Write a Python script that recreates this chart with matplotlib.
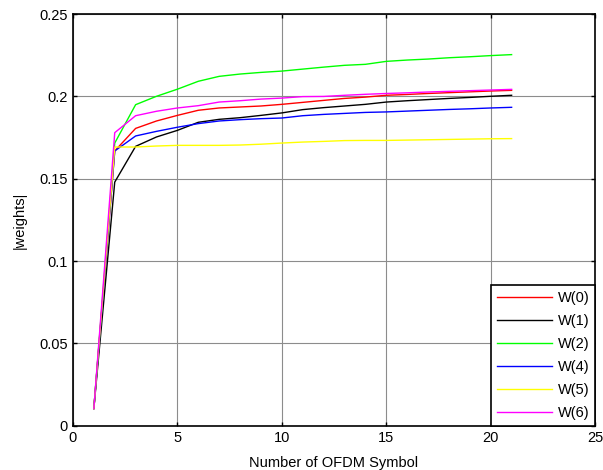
import matplotlib
matplotlib.use("Agg")
import matplotlib.pyplot as plt
from matplotlib.ticker import FuncFormatter

plt.rcParams.update({"font.family": ["Liberation Sans", "DejaVu Sans"], "font.size": 10.5})

symbols = list(range(1, 22))
w0 = [0.0105, 0.1669, 0.1806, 0.1851, 0.1885, 0.1916, 0.1930, 0.1936, 0.1942, 0.1952, 0.1964,
      0.1976, 0.1988, 0.1996, 0.2007, 0.2012, 0.2018, 0.2023, 0.2028, 0.2033, 0.2037]
w1 = [0.0105, 0.1480, 0.1697, 0.1754, 0.1794, 0.1843, 0.1861, 0.1871, 0.1885, 0.1900, 0.1920,
      0.1932, 0.1942, 0.1952, 0.1966, 0.1974, 0.1981, 0.1988, 0.1994, 0.2001, 0.2007]
w2 = [0.0105, 0.1717, 0.1950, 0.2001, 0.2044, 0.2092, 0.2122, 0.2136, 0.2146, 0.2154, 0.2166,
      0.2178, 0.2189, 0.2195, 0.2213, 0.2221, 0.2227, 0.2235, 0.2241, 0.2248, 0.2254]
w4 = [0.0105, 0.1669, 0.1760, 0.1788, 0.1813, 0.1835, 0.1851, 0.1859, 0.1865, 0.1869, 0.1883,
      0.1891, 0.1897, 0.1903, 0.1906, 0.1911, 0.1916, 0.1921, 0.1925, 0.1930, 0.1934]
w5 = [0.0105, 0.1693, 0.1693, 0.1699, 0.1703, 0.1703, 0.1703, 0.1705, 0.1710, 0.1717, 0.1723,
      0.1727, 0.1732, 0.1733, 0.1733, 0.1735, 0.1737, 0.1739, 0.1741, 0.1743, 0.1744]
w6 = [0.0105, 0.1780, 0.1883, 0.1910, 0.1930, 0.1944, 0.1966, 0.1974, 0.1984, 0.1990, 0.1999,
      0.2000, 0.2007, 0.2013, 0.2018, 0.2022, 0.2027, 0.2031, 0.2035, 0.2039, 0.2043]

series = [("W(0)", w0, "#ff0000"), ("W(1)", w1, "#000000"), ("W(2)", w2, "#00ff00"),
          ("W(4)", w4, "#0000ff"), ("W(5)", w5, "#ffff00"), ("W(6)", w6, "#ff00ff")]

fig = plt.figure(figsize=(6.03, 4.70), dpi=100)
ax = fig.add_axes([0.121, 0.094, 0.866, 0.876])
for name, vals, col in series:
    ax.plot(symbols, vals, color=col, lw=1.0, label=name)

ax.set_xlim(0, 25)
ax.set_ylim(0, 0.25)
ax.set_xticks(range(0, 26, 5))
ax.set_yticks([0, 0.05, 0.1, 0.15, 0.2, 0.25])
ax.yaxis.set_major_formatter(FuncFormatter(lambda v, p: "%g" % round(v, 3)))
ax.grid(True, color="#8c8c8c", lw=0.8)
ax.tick_params(direction="in", top=True, right=True, length=3, width=1, labelsize=10.5)
for s in ax.spines.values():
    s.set_linewidth(1.2)
ax.set_xlabel("Number of OFDM Symbol", labelpad=8)
ax.set_ylabel("|weights|", labelpad=9)

leg = ax.legend(loc="lower right", fancybox=False, framealpha=1, edgecolor="black",
                borderaxespad=0, handlelength=3.8, handletextpad=0.35,
                labelspacing=0.62, fontsize=10.5)
leg.get_frame().set_linewidth(1.2)

fig.savefig("out.png", dpi=100)
